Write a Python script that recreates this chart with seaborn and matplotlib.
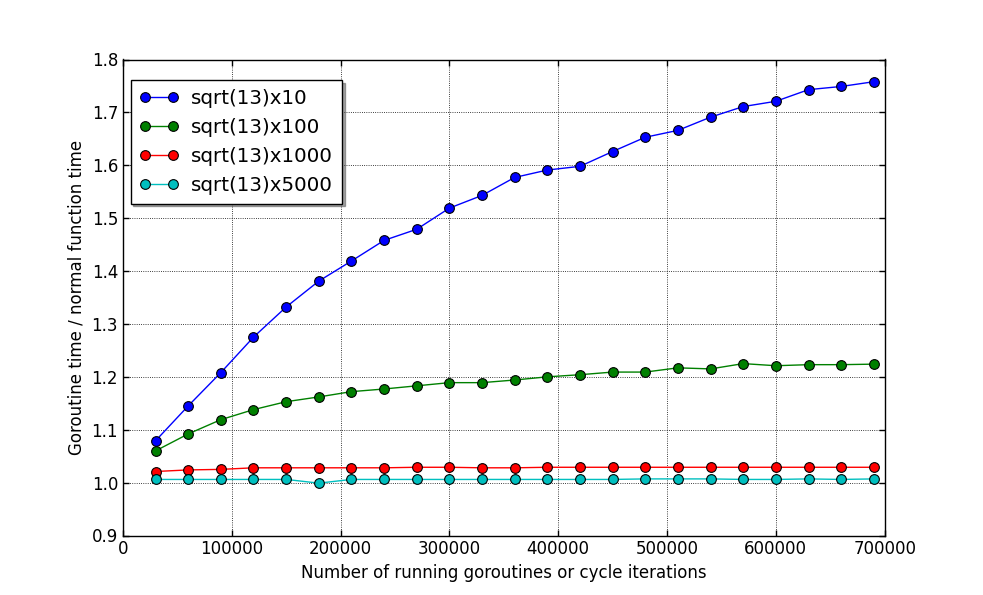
import numpy as np
import pandas as pd
import matplotlib
matplotlib.use("Agg")
import matplotlib.pyplot as plt
import seaborn as sns

x_values = [30000, 60000, 90000, 120000, 150000, 180000, 210000, 240000, 270000,
            300000, 330000, 360000, 390000, 420000, 450000, 480000, 510000, 540000,
            570000, 600000, 630000, 660000, 690000]

sqrt13_x10 = [1.079, 1.145, 1.208, 1.275, 1.332, 1.381, 1.419, 1.458, 1.479,
              1.519, 1.543, 1.577, 1.591, 1.598, 1.626, 1.653, 1.666, 1.691,
              1.711, 1.721, 1.743, 1.749, 1.758]
sqrt13_x100 = [1.060, 1.092, 1.119, 1.138, 1.153, 1.162, 1.172, 1.177, 1.183,
               1.189, 1.189, 1.194, 1.200, 1.204, 1.209, 1.209, 1.217, 1.215,
               1.225, 1.221, 1.223, 1.223, 1.224]
sqrt13_x1000 = [1.021, 1.024, 1.025, 1.028, 1.028, 1.028, 1.028, 1.028, 1.029,
                1.029, 1.028, 1.028, 1.029, 1.029, 1.029, 1.029, 1.029, 1.029,
                1.029, 1.029, 1.029, 1.029, 1.029]
sqrt13_x5000 = [1.006, 1.006, 1.006, 1.006, 1.006, 0.999, 1.006, 1.006, 1.006,
                1.006, 1.006, 1.006, 1.006, 1.006, 1.006, 1.007, 1.007, 1.007,
                1.006, 1.006, 1.007, 1.006, 1.007]

series_names = ["sqrt(13)x10", "sqrt(13)x100", "sqrt(13)x1000", "sqrt(13)x5000"]
series_values = [sqrt13_x10, sqrt13_x100, sqrt13_x1000, sqrt13_x5000]
colors = ["#0000ff", "#008000", "#ff0000", "#00bfbf"]

rows = []
for name, vals in zip(series_names, series_values):
    for xv, yv in zip(x_values, vals):
        rows.append({"x": xv, "y": yv, "series": name})
df = pd.DataFrame(rows)

sns.set_style("white")
plt.rcParams['font.family'] = ['DejaVu Sans']
plt.rcParams['text.color'] = 'black'
plt.rcParams['axes.labelcolor'] = 'black'
plt.rcParams['xtick.color'] = 'black'
plt.rcParams['ytick.color'] = 'black'

fig = plt.figure(figsize=(9.83, 5.95), dpi=100)
ax = fig.add_axes([0.125, 0.1, 0.775, 0.8])

sns.lineplot(data=df, x="x", y="y", hue="series", hue_order=series_names,
             palette=colors, marker="o", markersize=7, markeredgecolor="black",
             markeredgewidth=0.8, linewidth=1, ax=ax, legend=True)

ax.set_xlim(0, 700000)
ax.set_ylim(0.9, 1.8)
ax.set_xticks(np.arange(0, 700001, 100000))
ax.set_xticklabels([str(v) for v in range(0, 700001, 100000)])
ax.set_yticks(np.arange(0.9, 1.81, 0.1))
ax.set_yticklabels([f"{v:.1f}" for v in np.arange(0.9, 1.81, 0.1)])
ax.grid(True, linestyle=":", color="black", linewidth=0.6)
ax.set_xlabel("Number of running goroutines or cycle iterations", fontsize=12)
ax.set_ylabel("Goroutine time / normal function time", fontsize=12)
ax.tick_params(axis="both", labelsize=12, direction="in", length=4, width=1,
               top=True, right=True, bottom=True, left=True, colors="black")
for sp in ax.spines.values():
    sp.set_color("black")
    sp.set_linewidth(1)
    sp.set_visible(True)

leg = ax.legend(loc="upper left", fontsize=14.3, shadow=True, fancybox=False,
                framealpha=1, edgecolor="black", borderpad=0.45,
                handlelength=2.0, handletextpad=0.6, numpoints=2,
                labelspacing=0.5, bbox_to_anchor=(-0.003, 0.978))
leg.get_frame().set_linewidth(1)
for t in leg.get_texts():
    t.set_color("black")

fig.savefig("out.png", dpi=100)
